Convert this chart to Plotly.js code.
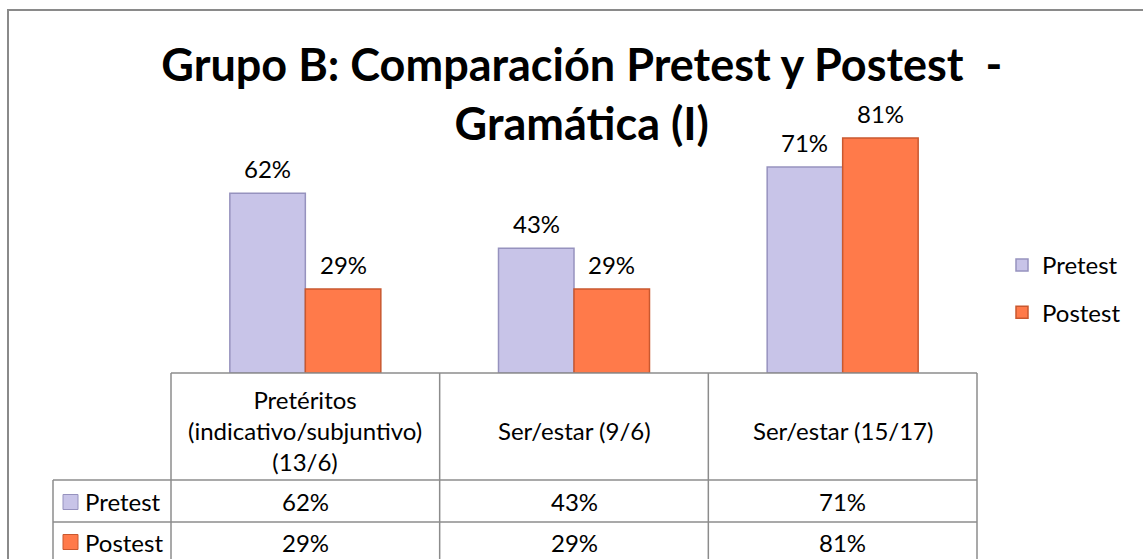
<!DOCTYPE html>
<html>
<head>
<meta charset="utf-8">
<script src="https://cdn.plot.ly/plotly-3.0.1.min.js"></script>
<style>html,body{margin:0;padding:0;background:#fff;}#chart{width:1143px;height:559px;}</style>
</head>
<body>
<div id="chart"></div>
<script>
// ---- data ----
var categories = ['Pretéritos (indicativo/subjuntivo) (13/6)', 'Ser/estar (9/6)', 'Ser/estar (15/17)'];
var categoryLabels = ['Pretéritos<br>(indicativo/subjuntivo)<br>(13/6)', 'Ser/estar (9/6)', 'Ser/estar (15/17)'];
var seriesNames = ['Pretest', 'Postest'];
var pretest = [62, 43, 71];
var postest = [29, 29, 81];
var titleText = 'Grupo B: Comparación Pretest y Postest  -<br>Gramática (I)';

// ---- layout geometry ----
var W = 1143, H = 559;
var M = {l: 171, r: 166, t: 83, b: 186};
var PW = W - M.l - M.r, PH = H - M.t - M.b;
function px2x(px) { return (px - M.l) / PW; }
function px2y(py) { return (H - M.b - py) / PH; }

var FONT = 'Lato, "Open Sans", sans-serif';
var FS = 24;
var colors = ['#C8C4E8', '#FF7A4A'];
var edges = ['#9692BE', '#C9582F'];
var grid = '#8C8C8C';
var txt = '#000000';

var seriesValues = [pretest, postest];
var traces = seriesNames.map(function (n, i) {
  return {
    type: 'bar', name: n, x: categories, y: seriesValues[i],
    marker: {color: colors[i], line: {color: edges[i], width: 1.5}},
    legendgroup: 'g' + i, hoverinfo: 'x+y'
  };
});

var barGap = 0.438;
var groupPx = PW / categories.length * (1 - barGap);
var barPx = groupPx / seriesNames.length;

var shapes = [];
var annotations = [];
function line(x0, y0, x1, y1, c, w) {
  shapes.push({type: 'line', xref: 'paper', yref: 'paper', x0: x0, y0: y0, x1: x1, y1: y1,
    line: {color: c, width: w}});
}
// outer chart border
shapes.push({type: 'rect', xref: 'paper', yref: 'paper', x0: px2x(8), y0: px2y(10), x1: px2x(W + 20), y1: px2y(H + 20),
  line: {color: '#8A8A8A', width: 2}, fillcolor: 'rgba(0,0,0,0)'});

// data table
var rowTop = 373, rowHdr = 480, row1 = 522, rowBot = H + 10, keyColL = 53;
line(0, px2y(rowTop), 1, px2y(rowTop), grid, 1.5);
line(px2x(keyColL), px2y(rowHdr), 1, px2y(rowHdr), grid, 1.5);
line(px2x(keyColL), px2y(row1), 1, px2y(row1), grid, 1.5);
line(px2x(keyColL), px2y(rowHdr), px2x(keyColL), px2y(rowBot), grid, 1.5);
for (var c = 0; c <= categories.length; c++) {
  line(c / categories.length, px2y(rowTop), c / categories.length, px2y(rowBot), grid, 1.5);
}

// header labels
categories.forEach(function (cat, i) {
  annotations.push({xref: 'x', yref: 'paper', x: cat, y: px2y(430), text: categoryLabels[i],
    showarrow: false, xanchor: 'center', yanchor: 'middle', font: {family: FONT, size: FS, color: txt}});
});
// row labels with key
var rowCenters = [502, 542];
seriesNames.forEach(function (n, s) {
  var yc = rowCenters[s];
  shapes.push({type: 'rect', xref: 'paper', yref: 'paper', x0: px2x(63), x1: px2x(78), y0: px2y(yc - 7.5), y1: px2y(yc + 7.5),
    fillcolor: colors[s], line: {color: edges[s], width: 1}});
  annotations.push({xref: 'paper', yref: 'paper', x: px2x(83), y: px2y(yc), text: n, showarrow: false,
    xanchor: 'left', yanchor: 'middle', font: {family: FONT, size: FS, color: txt}});
  categories.forEach(function (cat, i) {
    annotations.push({xref: 'x', yref: 'paper', x: cat, y: px2y(yc), text: seriesValues[s][i] + '%',
      showarrow: false, xanchor: 'center', yanchor: 'middle', font: {family: FONT, size: FS, color: txt}});
  });
});
// data labels above bars
seriesNames.forEach(function (n, s) {
  categories.forEach(function (cat, i) {
    annotations.push({xref: 'x', yref: 'y', x: cat, y: seriesValues[s][i], text: seriesValues[s][i] + '%',
      xshift: (s - (seriesNames.length - 1) / 2) * barPx, yshift: 8,
      showarrow: false, xanchor: 'center', yanchor: 'bottom', font: {family: FONT, size: FS, color: txt}});
  });
});

var layout = {
  width: W, height: H,
  margin: M,
  paper_bgcolor: '#FFFFFF', plot_bgcolor: 'rgba(0,0,0,0)',
  font: {family: FONT, color: txt},
  title: {text: titleText, font: {family: FONT, size: 45, color: txt, weight: 'bold'},
    x: 0.509, xanchor: 'center', y: 1 - 81 / H, yanchor: 'top', yref: 'container'},
  barmode: 'group', bargap: barGap, bargroupgap: 0,
  xaxis: {type: 'category', range: [-0.5, categories.length - 0.5], showticklabels: false, showline: false,
    showgrid: false, zeroline: false, ticks: '', fixedrange: true},
  yaxis: {range: [0, 100], visible: false, showgrid: false, zeroline: false, fixedrange: true},
  showlegend: true,
  legend: {x: px2x(1002), y: px2y(243), xanchor: 'left', yanchor: 'top', traceorder: 'grouped', tracegroupgap: 13,
    font: {family: FONT, size: FS, color: txt}, bgcolor: 'rgba(0,0,0,0)'},
  shapes: shapes,
  annotations: annotations
};

Plotly.newPlot('chart', traces, layout, {displayModeBar: false, staticPlot: true});
</script>
</body>
</html>
